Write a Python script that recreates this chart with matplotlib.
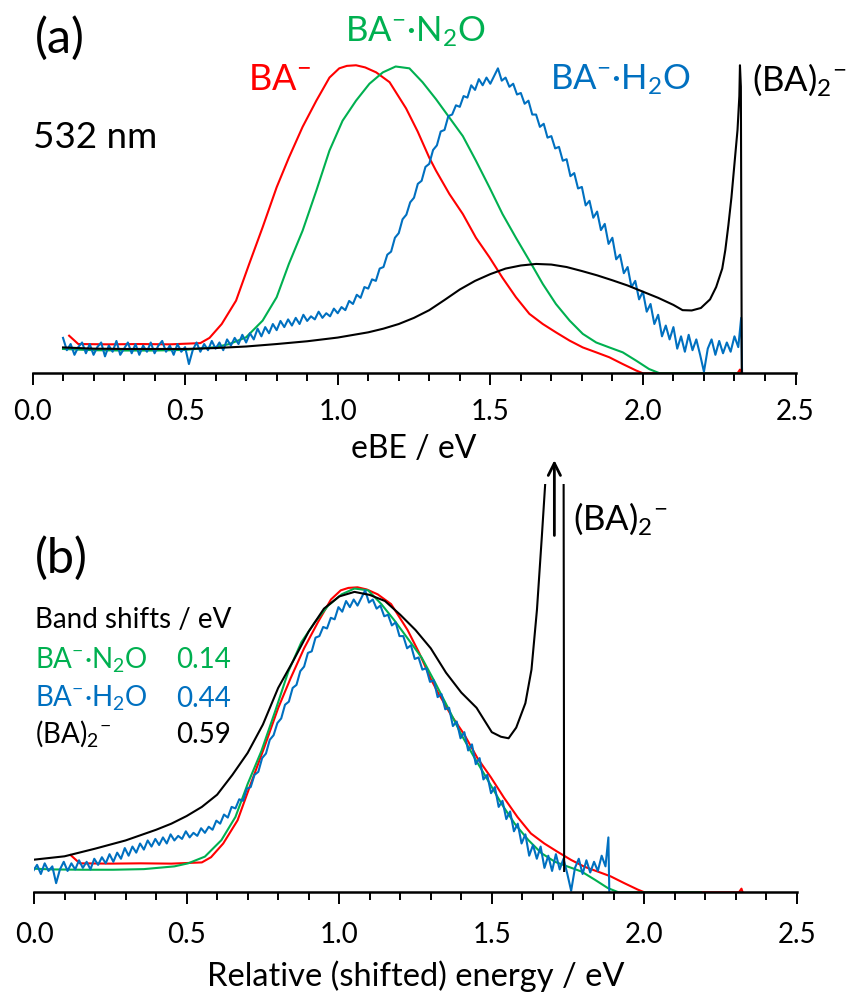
import matplotlib
matplotlib.use("Agg")
import matplotlib.pyplot as plt
import numpy as np
from matplotlib.ticker import MultipleLocator, FormatStrFormatter

plt.rcParams['font.family'] = ['Lato', 'DejaVu Sans']
plt.rcParams['mathtext.fontset'] = 'custom'
plt.rcParams['mathtext.rm'] = 'Lato'
plt.rcParams['mathtext.it'] = 'Lato'
plt.rcParams['mathtext.bf'] = 'Lato:bold'

RED, GREEN, BLUE = '#FF0000', '#00B050', '#0070C0'

# ---- panel (a): spectra vs eBE ----
energy_red_a = [0.12, 0.15, 0.25, 0.35, 0.45, 0.55, 0.58, 0.62, 0.667, 0.71, 0.754, 0.80,
                0.84, 0.885, 0.93, 0.973, 1.005, 1.03, 1.06, 1.09, 1.126, 1.17, 1.224,
                1.262, 1.30, 1.322, 1.366, 1.41, 1.453, 1.497, 1.54, 1.584, 1.628, 1.672,
                1.715, 1.76, 1.803, 1.847, 1.89, 1.934, 1.978, 2.0, 2.31, 2.318, 2.322]
red_a = [0.122, 0.095, 0.094, 0.095, 0.094, 0.098, 0.115, 0.16, 0.236, 0.355, 0.474, 0.604,
         0.70, 0.80, 0.885, 0.96, 0.99, 0.998, 1.0, 0.993, 0.977, 0.945, 0.86,
         0.785, 0.70, 0.658, 0.582, 0.517, 0.44, 0.377, 0.31, 0.247, 0.193, 0.16,
         0.133, 0.106, 0.084, 0.068, 0.052, 0.03, 0.009, 0.0, 0.0, 0.012, 0.0]

energy_green_a = [0.10, 0.2, 0.3, 0.4, 0.5, 0.6, 0.645, 0.70, 0.754, 0.80, 0.84, 0.885, 0.93,
                  0.973, 1.016, 1.06, 1.104, 1.148, 1.19, 1.235, 1.278, 1.322, 1.366, 1.41,
                  1.453, 1.497, 1.54, 1.584, 1.628, 1.672, 1.715, 1.76, 1.803, 1.847, 1.89,
                  1.934, 1.978, 2.02, 2.055, 2.325]
green_a = [0.079, 0.075, 0.074, 0.074, 0.076, 0.085, 0.095, 0.117, 0.171, 0.247, 0.355, 0.463,
           0.593, 0.723, 0.82, 0.885, 0.94, 0.977, 0.996, 0.99, 0.945, 0.89, 0.83, 0.77,
           0.69, 0.604, 0.517, 0.44, 0.366, 0.29, 0.225, 0.171, 0.128, 0.10, 0.084,
           0.068, 0.041, 0.014, 0.0, 0.0]

energy_blue_a = [
    0.1000, 0.1125, 0.1250, 0.1375, 0.1500, 0.1625, 0.1750, 0.1875, 0.2000, 0.2125,
    0.2250, 0.2375, 0.2500, 0.2625, 0.2750, 0.2875, 0.3000, 0.3125, 0.3250, 0.3375,
    0.3500, 0.3625, 0.3750, 0.3875, 0.4000, 0.4125, 0.4250, 0.4375, 0.4500, 0.4625,
    0.4750, 0.4875, 0.5000, 0.5125, 0.5250, 0.5375, 0.5500, 0.5625, 0.5750, 0.5875,
    0.6000, 0.6125, 0.6250, 0.6375, 0.6500, 0.6625, 0.6750, 0.6875, 0.7000, 0.7125,
    0.7250, 0.7375, 0.7500, 0.7625, 0.7750, 0.7875, 0.8000, 0.8125, 0.8250, 0.8375,
    0.8500, 0.8625, 0.8750, 0.8875, 0.9000, 0.9125, 0.9250, 0.9375, 0.9500, 0.9625,
    0.9750, 0.9875, 1.0000, 1.0125, 1.0250, 1.0375, 1.0500, 1.0625, 1.0750, 1.0875,
    1.1000, 1.1125, 1.1250, 1.1375, 1.1500, 1.1625, 1.1750, 1.1875, 1.2000, 1.2125,
    1.2250, 1.2375, 1.2500, 1.2625, 1.2750, 1.2875, 1.3000, 1.3125, 1.3250, 1.3375,
    1.3500, 1.3625, 1.3750, 1.3875, 1.4000, 1.4125, 1.4250, 1.4375, 1.4500, 1.4625,
    1.4750, 1.4875, 1.5000, 1.5125, 1.5250, 1.5375, 1.5500, 1.5625, 1.5750, 1.5875,
    1.6000, 1.6125, 1.6250, 1.6375, 1.6500, 1.6625, 1.6750, 1.6875, 1.7000, 1.7125,
    1.7250, 1.7375, 1.7500, 1.7625, 1.7750, 1.7875, 1.8000, 1.8125, 1.8250, 1.8375,
    1.8500, 1.8625, 1.8750, 1.8875, 1.9000, 1.9125, 1.9250, 1.9375, 1.9500, 1.9625,
    1.9750, 1.9875, 2.0000, 2.0125, 2.0250, 2.0375, 2.0500, 2.0625, 2.0750, 2.0875,
    2.1000, 2.1125, 2.1250, 2.1375, 2.1500, 2.1625, 2.1750, 2.1875, 2.2000, 2.2125,
    2.2250, 2.2375, 2.2500, 2.2625, 2.2750, 2.2875, 2.3000, 2.3125, 2.3220, 2.3250]
blue_a = [
    0.115, 0.075, 0.095, 0.060, 0.085, 0.100, 0.065, 0.095, 0.060, 0.085,
    0.100, 0.055, 0.090, 0.070, 0.105, 0.060, 0.080, 0.100, 0.065, 0.095,
    0.060, 0.090, 0.070, 0.100, 0.065, 0.090, 0.105, 0.070, 0.090, 0.060,
    0.095, 0.070, 0.085, 0.030, 0.075, 0.100, 0.070, 0.095, 0.075, 0.105,
    0.080, 0.100, 0.075, 0.110, 0.090, 0.115, 0.095, 0.125, 0.100, 0.130,
    0.110, 0.145, 0.120, 0.150, 0.130, 0.160, 0.140, 0.170, 0.150, 0.175,
    0.155, 0.180, 0.160, 0.190, 0.170, 0.185, 0.175, 0.200, 0.180, 0.195,
    0.185, 0.210, 0.195, 0.215, 0.205, 0.235, 0.225, 0.255, 0.245, 0.280,
    0.275, 0.305, 0.300, 0.340, 0.345, 0.385, 0.395, 0.440, 0.455, 0.500,
    0.515, 0.555, 0.570, 0.615, 0.625, 0.670, 0.680, 0.725, 0.740, 0.785,
    0.790, 0.835, 0.840, 0.870, 0.865, 0.900, 0.895, 0.935, 0.920, 0.955,
    0.935, 0.960, 0.940, 0.965, 0.990, 0.950, 0.960, 0.930, 0.940, 0.905,
    0.910, 0.875, 0.885, 0.840, 0.840, 0.800, 0.810, 0.765, 0.770, 0.730,
    0.735, 0.690, 0.695, 0.640, 0.650, 0.600, 0.605, 0.545, 0.560, 0.505,
    0.525, 0.465, 0.485, 0.420, 0.440, 0.370, 0.385, 0.325, 0.345, 0.280,
    0.300, 0.240, 0.265, 0.200, 0.225, 0.160, 0.190, 0.120, 0.155, 0.110,
    0.150, 0.080, 0.120, 0.070, 0.125, 0.075, 0.110, 0.060, 0.005, 0.080,
    0.110, 0.060, 0.105, 0.065, 0.100, 0.070, 0.120, 0.085, 0.180, 0.000]

energy_black_a = [0.10, 0.20, 0.30, 0.40, 0.50, 0.60, 0.70, 0.80, 0.90, 1.00, 1.10, 1.15, 1.20,
                  1.25, 1.30, 1.35, 1.40, 1.45, 1.50, 1.55, 1.60, 1.65, 1.70, 1.75, 1.80, 1.85,
                  1.90, 1.95, 2.00, 2.05, 2.10, 2.13, 2.16, 2.19, 2.22, 2.24, 2.26, 2.27, 2.28,
                  2.29, 2.30, 2.31, 2.316, 2.318, 2.321, 2.324]
black_a = [0.084, 0.080, 0.079, 0.079, 0.079, 0.082, 0.087, 0.095, 0.104, 0.116, 0.133, 0.145,
           0.160, 0.180, 0.205, 0.238, 0.272, 0.300, 0.322, 0.340, 0.350, 0.355, 0.353, 0.345,
           0.332, 0.318, 0.302, 0.285, 0.265, 0.245, 0.222, 0.205, 0.204, 0.212, 0.240, 0.280,
           0.340, 0.400, 0.480, 0.570, 0.680, 0.790, 0.900, 1.000, 0.930, 0.0]

# ---- panel (b): band shifts and the re-normalised (BA)2- spectrum ----
shift_names = ['BA$^{-}$·N$_{2}$O', 'BA$^{-}$·H$_{2}$O', '(BA)$_{2}$$^{-}$']
band_shifts = [0.14, 0.44, 0.59]

energy_black_b = [0.0, 0.10, 0.20, 0.30, 0.40, 0.45, 0.50, 0.55, 0.60, 0.65, 0.70, 0.75, 0.80,
                  0.85, 0.90, 0.95, 1.00, 1.05, 1.10, 1.15, 1.20, 1.25, 1.30, 1.35, 1.40, 1.45,
                  1.50, 1.53, 1.555, 1.58, 1.61, 1.63, 1.648, 1.664, 1.675, 1.69, 1.735, 1.737]
black_b = [0.107, 0.118, 0.143, 0.170, 0.205, 0.225, 0.250, 0.280, 0.320, 0.385, 0.457, 0.550,
           0.670, 0.760, 0.855, 0.930, 0.970, 0.985, 0.975, 0.955, 0.910, 0.860, 0.800, 0.720,
           0.655, 0.605, 0.525, 0.510, 0.505, 0.540, 0.620, 0.730, 0.927, 1.167, 1.340, 1.600,
           1.600, 0.070]

W, H = 852, 998
fig = plt.figure(figsize=(W / 100, H / 100), dpi=100)
ax_a = fig.add_axes([32.5 / W, (H - 373.3) / H, 763 / W, 314.2 / H])
ax_b = fig.add_axes([34 / W, (H - 892.3) / H, 763 / W, 408.7 / H])

lw = 1.5
ax_a.plot(energy_red_a, red_a, color=RED, lw=lw)
ax_a.plot(energy_green_a, green_a, color=GREEN, lw=lw)
ax_a.plot(energy_blue_a, blue_a, color=BLUE, lw=lw)
ax_a.plot(energy_black_a, black_a, color='black', lw=lw)

ax_b.plot(energy_red_a, red_a, color=RED, lw=lw)
ax_b.plot(np.array(energy_green_a) - band_shifts[0], green_a, color=GREEN, lw=lw)
ax_b.plot(np.array(energy_blue_a) - band_shifts[1], blue_a, color=BLUE, lw=lw)
ax_b.plot(energy_black_b, black_b, color='black', lw=lw)

ax_a.set_ylim(0, 1.02)
ax_b.set_ylim(0, 1.34)
for ax, pad in ((ax_a, 10), (ax_b, 12.5)):
    ax.set_xlim(0, 2.5)
    for s in ('left', 'right', 'top'):
        ax.spines[s].set_visible(False)
    ax.spines['bottom'].set_linewidth(1.8)
    ax.set_yticks([])
    ax.xaxis.set_major_locator(MultipleLocator(0.5))
    ax.xaxis.set_minor_locator(MultipleLocator(0.1))
    ax.xaxis.set_major_formatter(FormatStrFormatter('%.1f'))
    ax.tick_params(axis='x', which='major', direction='out', length=8.6, width=1.4,
                   labelsize=20, pad=pad)
    ax.tick_params(axis='x', which='minor', direction='out', length=6, width=1.4)

ax_a.set_xlabel('eBE / eV', fontsize=23, va='baseline')
ax_a.xaxis.set_label_coords(0.5, -(458 - 373.3) / 314.2)
ax_b.set_xlabel('Relative (shifted) energy / eV', fontsize=23.5, va='baseline')
ax_b.xaxis.set_label_coords(0.5, -(986 - 892.3) / 408.7)

# panel (a) labels
ax_a.text(0.008, 1.039, '(a)', fontsize=35, va='baseline')
ax_a.text(0.003, 0.73, '532 nm', fontsize=26.5, va='baseline')
ax_a.text(0.706, 0.92, 'BA$^{-}$', fontsize=26, color=RED, va='baseline')
ax_a.text(1.024, 1.077, shift_names[0], fontsize=25, color=GREEN, va='baseline')
ax_a.text(1.696, 0.92, shift_names[1], fontsize=25, color=BLUE, va='baseline')
ax_a.text(2.357, 0.917, shift_names[2], fontsize=25, color='black', va='baseline')

# panel (b) labels and band-shift table
ax_b.text(0.003, 1.047, '(b)', fontsize=35, va='baseline')
ax_b.text(0.003, 0.867, 'Band shifts / eV', fontsize=20, va='baseline')
for name, val, col, yy in zip(shift_names, band_shifts, [GREEN, BLUE, 'black'],
                              [0.735, 0.608, 0.49]):
    ax_b.text(0.003, yy, name, fontsize=20, color=col, va='baseline')
    ax_b.text(0.465, yy, f'{val:.2f}', fontsize=20, color=col, va='baseline')
ax_b.text(1.766, 1.188, shift_names[2], fontsize=25, va='baseline')
ax_b.annotate('', xy=(1.705, 1.417), xytext=(1.705, 1.17), annotation_clip=False,
              arrowprops=dict(arrowstyle='->', lw=2, color='black', mutation_scale=22,
                              shrinkA=0, shrinkB=0))

fig.savefig('out.png', dpi=100)
